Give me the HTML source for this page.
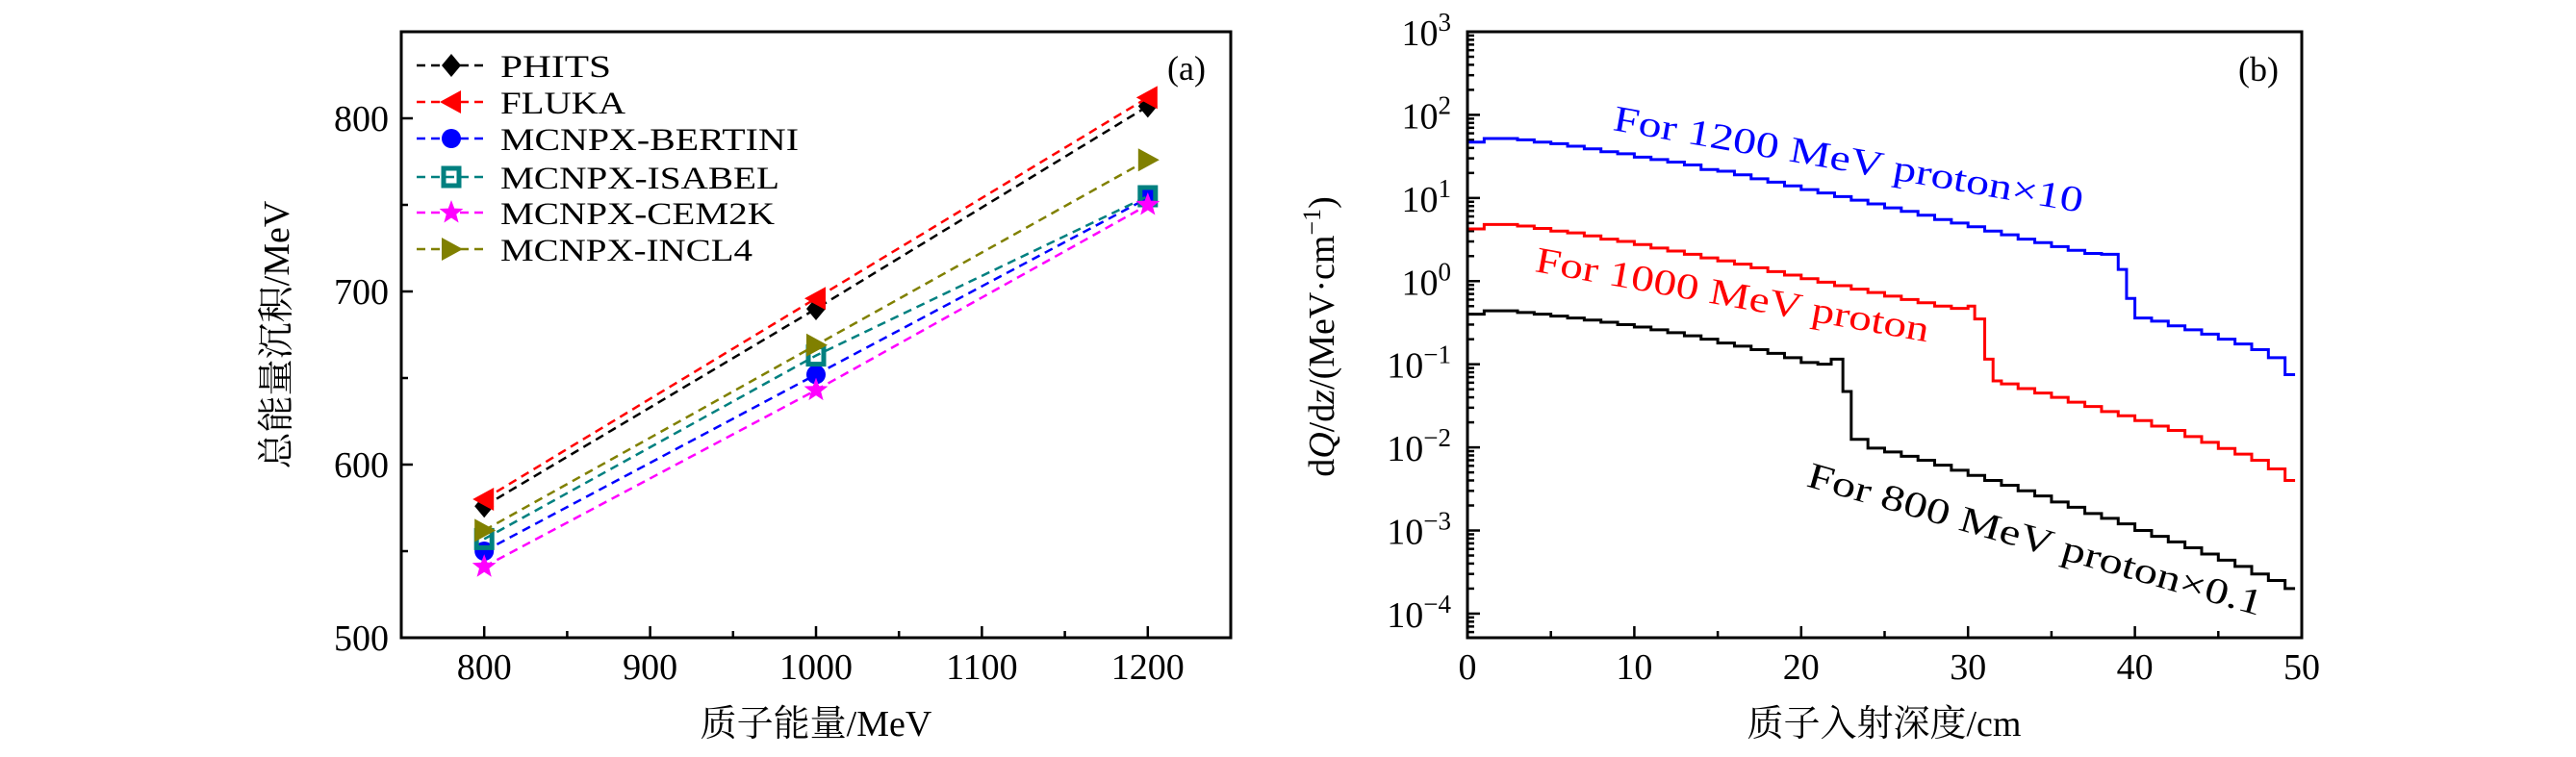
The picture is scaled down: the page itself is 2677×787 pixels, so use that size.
<!DOCTYPE html>
<html><head><meta charset="utf-8"><style>
html,body{margin:0;padding:0;background:#fff}
svg{display:block;font-family:"Liberation Serif","Noto Serif CJK SC",serif}
</style></head><body>
<svg id="fig" width="2677" height="787" viewBox="0 0 2677 787" xmlns="http://www.w3.org/2000/svg">
<g id="pa"></g>
<g id="pb"></g>
</svg>
<script>
// ---------- Panel (a) data ----------
const energies = [800, 1000, 1200];
const seriesNames = ["PHITS","FLUKA","MCNPX-BERTINI","MCNPX-ISABEL","MCNPX-CEM2K","MCNPX-INCL4"];
const phits = [576, 690, 807];
const fluka = [580, 696, 812];
const bertini = [550, 652, 754];
const isabel = [557, 663, 755];
const cem2k = [541, 643, 750];
const incl4 = [562, 669, 776];
const xTicksA = [800, 900, 1000, 1100, 1200];
const yTicksA = [500, 600, 700, 800];

// ---------- Panel (b) data ----------
const blueEdges = [0,1,2,3,4,5,6,7,8,9,10,11,12,13,14,15,16,17,18,19,20,21,22,23,24,25,26,27,28,29,30,31,32,33,34,35,36,37,38,39,39.5,40,41,42,43,44,45,46,47,48,49,49.6];
const blueVals = [47,52,52,50,47,45,42,39,36,34,31,29,27,25,22,21,19,17,15.5,14,12.6,11.5,10.4,9.4,8.5,7.6,6.9,6.2,5.5,5,4.5,4.0,3.6,3.2,2.9,2.6,2.35,2.15,2.1,1.38,0.62,0.36,0.33,0.29,0.26,0.23,0.2,0.175,0.15,0.12,0.075];
const redEdges = [0,1,2,3,4,5,6,7,8,9,10,11,12,13,14,15,16,17,18,19,20,21,22,23,24,25,26,27,28,29,30,30.4,31,31.5,32,33,34,35,36,37,38,39,40,41,42,43,44,45,46,47,48,49,49.6];
const redVals = [4.25,4.8,4.8,4.6,4.3,4.0,3.8,3.5,3.2,3.0,2.75,2.5,2.3,2.1,1.9,1.75,1.6,1.45,1.3,1.18,1.07,0.97,0.88,0.8,0.73,0.66,0.6,0.55,0.5,0.47,0.5,0.35,0.115,0.063,0.058,0.051,0.045,0.04,0.035,0.031,0.027,0.024,0.021,0.018,0.016,0.0135,0.0115,0.0097,0.0083,0.007,0.0055,0.004];
const blackEdges = [0,1,2,3,4,5,6,7,8,9,10,11,12,13,14,15,16,17,18,19,20,21,21.8,22.5,23,24,25,26,27,28,29,30,31,32,33,34,35,36,37,38,39,40,41,42,43,44,45,46,47,48,49,49.6];
const blackVals = [0.40,0.44,0.44,0.42,0.40,0.38,0.36,0.34,0.32,0.3,0.28,0.26,0.24,0.22,0.2,0.18,0.165,0.15,0.135,0.12,0.105,0.1,0.115,0.047,0.0125,0.0098,0.0088,0.0078,0.007,0.0061,0.0053,0.0046,0.004,0.0035,0.003,0.0026,0.0022,0.0019,0.0016,0.0014,0.0012,0.001,0.00085,0.00073,0.00062,0.00052,0.00044,0.00037,0.0003,0.00025,0.0002];
const xTicksB = [0,10,20,30,40,50];
const yExpB = [3,2,1,0,-1,-2,-3,-4];

const NS = "http://www.w3.org/2000/svg";
function mk(parent, tag, attrs, text){
  const e = document.createElementNS(NS, tag);
  for (const k in attrs) e.setAttribute(k, attrs[k]);
  if (text !== undefined) e.textContent = text;
  parent.appendChild(e);
  return e;
}

// ================= Panel A =================
const pa = document.getElementById('pa');
const AL=417, AR=1279, AT=33, AB=663;
const ax = v => AL + (v-750)/(500)*(AR-AL);
const ay = v => AB - (v-500)/(350)*(AB-AT);

for (let v=750; v<=1250; v+=50){
  if (v===750||v===1250) continue;
  const major = v%100===0;
  const t = mk(pa,'line',{x1:ax(v),x2:ax(v),y1:AB,y2:AB-(major?12:7),stroke:'#000','stroke-width':2.5});
  
  
}
for (let v=550; v<850; v+=50){
  const major = v%100===0;
  const t = mk(pa,'line',{x1:AL,x2:AL+(major?12:7),y1:ay(v),y2:ay(v),stroke:'#000','stroke-width':2.5});
  
  
}
xTicksA.forEach(v=>{
  const t = mk(pa,'text',{x:ax(v),y:706,'font-size':38,'text-anchor':'middle'},String(v));
  
  
});
yTicksA.forEach(v=>{
  const t = mk(pa,'text',{x:404,y:ay(v)+13,'font-size':38,'text-anchor':'end'},String(v));
  
  
});
{
  const t = mk(pa,'text',{x:848,y:765,'font-size':38,'text-anchor':'middle'},'质子能量/MeV');
  
  
  const t2 = mk(pa,'text',{x:0,y:0,'font-size':38,'text-anchor':'middle',transform:'translate(300,348) rotate(-90)'},'总能量沉积/MeV');
  
  
  const t3 = mk(pa,'text',{x:1233,y:83,'font-size':36,'text-anchor':'middle'},'(a)');
  
  
}

function marker(g, type, x, y, color){
  let e;
  if (type==='diamond') e = mk(g,'polygon',{points:`${x},${y-12} ${x+10},${y} ${x},${y+12} ${x-10},${y}`,fill:color});
  else if (type==='left') e = mk(g,'polygon',{points:`${x-12},${y} ${x+10},${y-12} ${x+10},${y+12}`,fill:color});
  else if (type==='right') e = mk(g,'polygon',{points:`${x+12},${y} ${x-10},${y-12} ${x-10},${y+12}`,fill:color});
  else if (type==='circle') e = mk(g,'circle',{cx:x,cy:y,r:10,fill:color});
  else if (type==='square') e = mk(g,'rect',{x:x-8,y:y-9,width:16,height:18,fill:'none',stroke:color,'stroke-width':5});
  else if (type==='star'){
    let pts=[];
    for(let i=0;i<10;i++){const r=i%2?5.5:13;const a=-Math.PI/2+i*Math.PI/5;pts.push((x+r*Math.cos(a)).toFixed(1)+','+(y+r*Math.sin(a)).toFixed(1));}
    e = mk(g,'polygon',{points:pts.join(' '),fill:color});
  }
  return e;
}

const allSeries = [phits, fluka, bertini, isabel, cem2k, incl4];
const colors = ['#000000','#ff0000','#0000ff','#008080','#ff00ff','#808000'];
const mtypes = ['diamond','left','circle','square','star','right'];
const legendWidths = [115,130,310,290,285,262];
allSeries.forEach((vals, si)=>{
  const g = mk(pa,'g',{});
  
  
  const pts = vals.map((v,i)=>ax(energies[i])+','+ay(v)).join(' ');
  const l = mk(g,'polyline',{points:pts,fill:'none',stroke:colors[si],'stroke-width':2.5,'stroke-dasharray':'9,6'});
  
  
  vals.forEach((v,i)=>{
    const m = marker(g, mtypes[si], ax(energies[i]), ay(v), colors[si]);
    
    
  });
  const ly = [68,106,144,184,221,259][si];
  const lg = mk(pa,'g',{});
  
  
  mk(lg,'line',{x1:433,x2:506,y1:ly,y2:ly,stroke:colors[si],'stroke-width':2.5,'stroke-dasharray':'9,6'});
  marker(lg, mtypes[si], 469, ly, colors[si]);
  mk(lg,'text',{x:520,y:ly+12,'font-size':33,textLength:legendWidths[si],lengthAdjust:'spacingAndGlyphs'},seriesNames[si]);
});
{
  const f = mk(pa,'rect',{x:AL,y:AT,width:AR-AL,height:AB-AT,fill:'none',stroke:'#000','stroke-width':3});
  
  
}

// ================= Panel B =================
const pb = document.getElementById('pb');
const BL=1525, BR=2392, BT=33, BB=663;
const YMAX=3, YMIN=-4.29;
const bx = v => BL + v/50*(BR-BL);
const by = v => BT + (YMAX-Math.log10(v))/(YMAX-YMIN)*(BB-BT);

for (let v=5; v<50; v+=5){
  const major = v%10===0;
  const t = mk(pb,'line',{x1:bx(v),x2:bx(v),y1:BB,y2:BB-(major?12:7),stroke:'#000','stroke-width':2.5});
  
  
}
for (let e=-5; e<3; e++){
  for (let m=1; m<10; m++){
    const v = m*Math.pow(10,e);
    const yy = by(v);
    if (yy<BT+1 || yy>BB-1) continue;
    const t = mk(pb,'line',{x1:BL,x2:BL+(m===1?13:7),y1:yy,y2:yy,stroke:'#000','stroke-width':2.5});
    
    
  }
}
xTicksB.forEach(v=>{
  const t = mk(pb,'text',{x:bx(v),y:706,'font-size':38,'text-anchor':'middle'},String(v));
  
  
});
yExpB.forEach(e=>{
  const t = mk(pb,'text',{x:1508,y:by(Math.pow(10,e))+14,'font-size':38,'text-anchor':'end'});
  
  
  mk(t,'tspan',{},'10');
  mk(t,'tspan',{dy:-15,'font-size':27},(e<0?'−':'')+Math.abs(e));
});
{
  const t = mk(pb,'text',{x:1958,y:765,'font-size':38,'text-anchor':'middle'},'质子入射深度/cm');
  
  
  const t2 = mk(pb,'text',{x:0,y:0,'font-size':38,'text-anchor':'middle',transform:'translate(1386,350) rotate(-90)'});
  
  
  mk(t2,'tspan',{},'d');
  mk(t2,'tspan',{'font-style':'italic'},'Q');
  mk(t2,'tspan',{},'/d');
  mk(t2,'tspan',{'font-style':'italic'},'z');
  mk(t2,'tspan',{},'/(MeV·cm');
  mk(t2,'tspan',{dy:-14,'font-size':26},'−1');
  mk(t2,'tspan',{dy:14},')');
  const t3 = mk(pb,'text',{x:2347,y:84,'font-size':36,'text-anchor':'middle'},'(b)');
  
  
}
function stepPath(edges, vals){
  let d = 'M'+bx(edges[0])+','+by(vals[0]);
  for (let i=0;i<vals.length;i++){
    d += ' L'+bx(edges[i])+','+by(vals[i])+' L'+bx(edges[i+1])+','+by(vals[i]);
  }
  return d;
}
[[blueEdges,blueVals,'#0000ff','curve-1200-mev'],[redEdges,redVals,'#ff0000','curve-1000-mev'],[blackEdges,blackVals,'#000000','curve-800-mev']].forEach(s=>{
  const p = mk(pb,'path',{d:stepPath(s[0],s[1]),fill:'none',stroke:s[2],'stroke-width':3});
  
  
});
{
  const a1 = mk(pb,'text',{x:0,y:0,'font-size':38,fill:'#0000ff',transform:'translate(1675,135) rotate(10)',textLength:495,lengthAdjust:'spacingAndGlyphs'},'For 1200 MeV proton×10');
  
  
  const a2 = mk(pb,'text',{x:0,y:0,'font-size':38,fill:'#ff0000',transform:'translate(1594,282) rotate(10.2)',textLength:415,lengthAdjust:'spacingAndGlyphs'},'For 1000 MeV proton');
  
  
  const a3 = mk(pb,'text',{x:0,y:0,'font-size':38,fill:'#000000',transform:'translate(1876,505) rotate(16)',textLength:490,lengthAdjust:'spacingAndGlyphs'},'For 800 MeV proton×0.1');
  
  
  const f = mk(pb,'rect',{x:BL,y:BT,width:BR-BL,height:BB-BT,fill:'none',stroke:'#000','stroke-width':3});
  
  
}
</script>
</body></html>
